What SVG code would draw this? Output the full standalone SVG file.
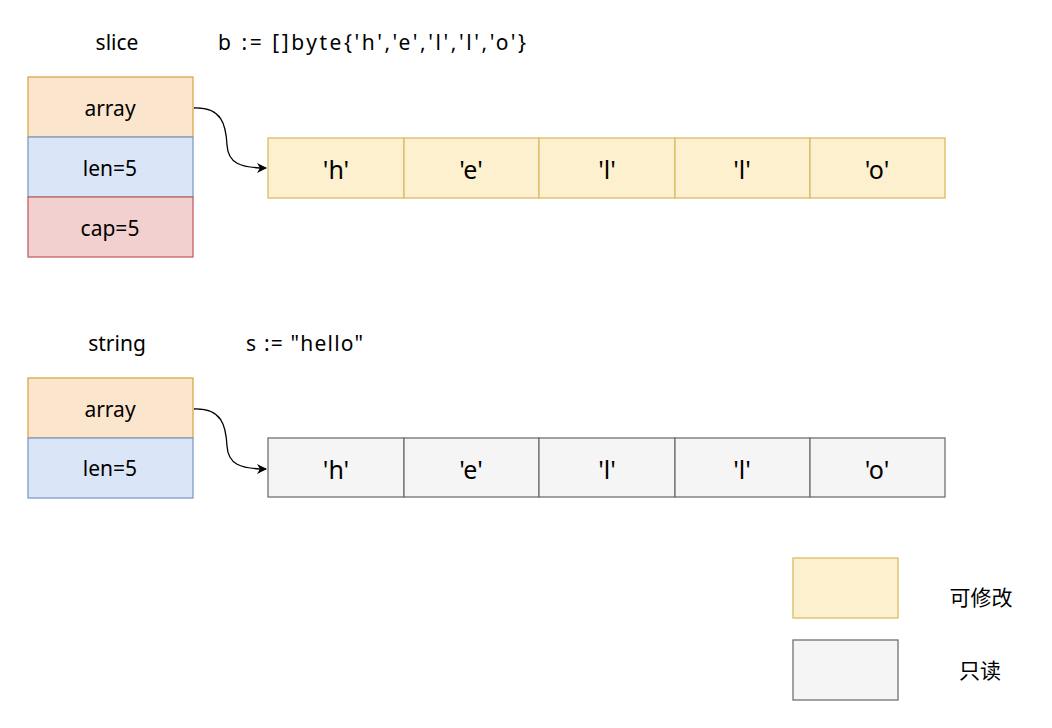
<svg xmlns="http://www.w3.org/2000/svg" width="1052" height="728" viewBox="0 0 1052 728">
<defs>
<marker id="arr" markerWidth="10" markerHeight="10" refX="9" refY="5" orient="auto" markerUnits="userSpaceOnUse">
<path d="M0,0 L10,5 L0,10 L3,5 Z" fill="#000"/>
</marker>
<style>
text{font-family:"Noto Sans","Noto Sans CJK SC",sans-serif;fill:#000;}
.lbl{font-size:21px;text-anchor:middle;dominant-baseline:central;}
.cell{font-size:25px;text-anchor:middle;dominant-baseline:central;}
.title{font-size:21px;dominant-baseline:central;}
.orange{fill:#fbe5cd;stroke:#d9a84a;stroke-width:1.3;}
.blue{fill:#dae6f8;stroke:#7f9cc9;stroke-width:1.3;}
.red{fill:#f2d0cf;stroke:#c06260;stroke-width:1.3;}
.yellow{fill:#fcf0cf;stroke:#d9bc64;stroke-width:1.3;}
.gray{fill:#f5f5f5;stroke:#707070;stroke-width:1.3;}
.edge{fill:none;stroke:#000;stroke-width:1.3;}
</style>
</defs>
<rect width="1052" height="728" fill="#fff"/>
<text class="lbl" x="117" y="42">slice</text>
<text class="title" x="218" y="42" textLength="308" lengthAdjust="spacing">b := []byte{'h','e','l','l','o'}</text>
<text class="lbl" x="117" y="343">string</text>
<text class="title" x="246" y="343" textLength="117" lengthAdjust="spacing">s := "hello"</text>

<g id="slice-array"><rect class="orange" x="28" y="77" width="165" height="60"/><text class="lbl" x="110" y="108">array</text></g>
<g id="slice-len"><rect class="blue" x="28" y="137" width="165" height="60"/><text class="lbl" x="110" y="168">len=5</text></g>
<g id="slice-cap"><rect class="red" x="28" y="197" width="165" height="60"/><text class="lbl" x="110" y="228">cap=5</text></g>

<g id="b0"><rect class="yellow" x="268" y="138" width="136" height="60"/><text class="cell" x="336" y="169">'h'</text></g>
<g id="b1"><rect class="yellow" x="404" y="138" width="135" height="60"/><text class="cell" x="471" y="169">'e'</text></g>
<g id="b2"><rect class="yellow" x="539" y="138" width="136" height="60"/><text class="cell" x="607" y="169">'l'</text></g>
<g id="b3"><rect class="yellow" x="675" y="138" width="135" height="60"/><text class="cell" x="742" y="169">'l'</text></g>
<g id="b4"><rect class="yellow" x="810" y="138" width="135" height="60"/><text class="cell" x="877" y="169">'o'</text></g>

<g id="string-array"><rect class="orange" x="28" y="378" width="165" height="60"/><text class="lbl" x="110" y="409">array</text></g>
<g id="string-len"><rect class="blue" x="28" y="438" width="165" height="60"/><text class="lbl" x="110" y="468">len=5</text></g>

<g id="s0"><rect class="gray" x="268" y="438" width="136" height="59"/><text class="cell" x="336" y="469">'h'</text></g>
<g id="s1"><rect class="gray" x="404" y="438" width="135" height="59"/><text class="cell" x="471" y="469">'e'</text></g>
<g id="s2"><rect class="gray" x="539" y="438" width="136" height="59"/><text class="cell" x="607" y="469">'l'</text></g>
<g id="s3"><rect class="gray" x="675" y="438" width="135" height="59"/><text class="cell" x="742" y="469">'l'</text></g>
<g id="s4"><rect class="gray" x="810" y="438" width="135" height="59"/><text class="cell" x="877" y="469">'o'</text></g>

<g id="legend-rw"><rect class="yellow" x="793" y="558" width="105" height="60"/><text class="lbl" x="981" y="597">可修改</text></g>
<g id="legend-ro"><rect class="gray" x="793" y="640" width="105" height="60"/><text class="lbl" x="980" y="670">只读</text></g>

<g id="connectors">
<path class="edge" d="M194,108 C222,107 226,125 227,145 C228,163 240,168 266,168" marker-end="url(#arr)"/>
<path class="edge" d="M194,409 C222,408 226,426 227,446 C228,464 240,469 266,469" marker-end="url(#arr)"/>
</g>
</svg>
